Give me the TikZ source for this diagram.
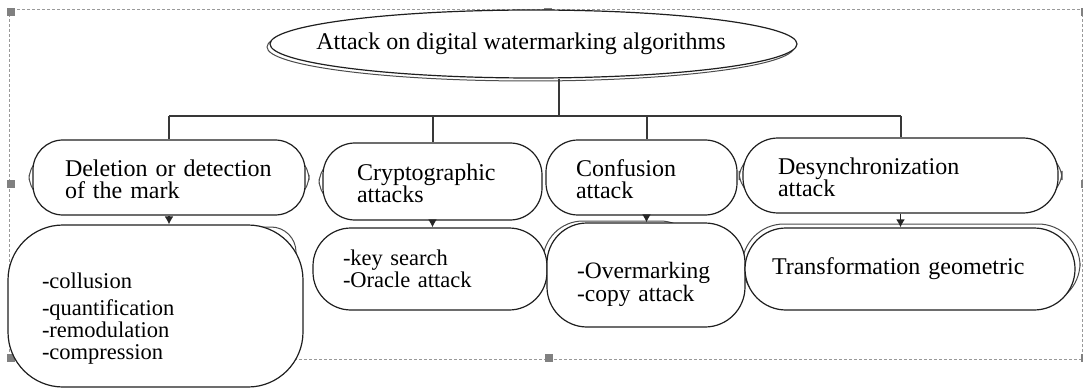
\documentclass[tikz,border=0pt]{standalone}
\usepackage{fontspec}
\setmainfont{Liberation Serif}
\usetikzlibrary{arrows.meta,shapes.geometric}

\begin{document}
\begin{tikzpicture}[x=1pt,y=-1pt,
  outline/.style={draw=black!88,line width=1.2pt,fill=white},
  ghost/.style={draw=black!70,line width=1pt,fill=white},
  card/.style={outline,rounded corners=#1,align=left,inner ysep=0pt},
  wire/.style={draw=black!78,line width=2pt},
  feed/.style={draw=black!85,line width=1.5pt,-{Latex[length=8pt,width=9pt]}},
  frame/.style={draw=black!40,line width=0.7pt,dash pattern=on 3pt off 2pt},
  handle/.style={fill=black!50,draw=none},
  lvltwo/.style={font=\fontsize{24}{22}\selectfont},
  lvlthree/.style={font=\fontsize{22.5}{22}\selectfont}]

\useasboundingbox (0,0) rectangle (1083,390);
\clip (0,0) rectangle (1083,390);

% selection frame with its handles
\draw[frame] (9,9) rectangle (1082,359);
\foreach \hx/\hy in {11/12,548/12,11/184,11/358,549/358,1085/12,1085/184,1085/358}
  \fill[handle] (\hx-4,\hy-4) rectangle (\hx+4,\hy+4);

% double-line outlines behind the shapes
\draw[ghost] (530.5,47) ellipse [x radius=263.5, y radius=34];
\draw[ghost,rounded corners=28] (29,152) rectangle (309,203);
\draw[ghost,rounded corners=28] (319,156) rectangle (500,207);
\draw[ghost,rounded corners=30] (739,150) rectangle (1062,201);
\draw[ghost,rounded corners=25] (100,227) rectangle (296,320);
\draw[ghost,rounded corners=40] (543,221) rectangle (700,300);
\draw[ghost,rounded corners=42] (742,224) rectangle (1080,305);

% root
\node[outline,ellipse,inner sep=0pt,minimum width=527pt,minimum height=68pt,
      font=\fontsize{24}{24}\selectfont] (top) at (533.5,44)
      {\makebox[0pt]{\hspace*{-25pt}\raisebox{-2pt}{Attack on digital watermarking algorithms}}};

% attack families
\node[card=30,lvltwo,minimum height=75pt,text width=208pt,inner xsep=32pt] (del) at (169,177.5)
  {\rule{0pt}{20pt}Deletion or detection\\of the mark};
\node[card=32,lvltwo,minimum height=77pt,text width=151pt,inner xsep=34pt] (crypt) at (432.5,181.5)
  {\rule{0pt}{20pt}Cryptographic\\attacks};
\node[card=32,lvltwo,minimum height=75pt,text width=131pt,inner xsep=30pt] (conf) at (641.5,177.5)
  {\rule{0pt}{20pt}Confusion\\attack};
\node[card=35,lvltwo,minimum height=75pt,text width=245pt,inner xsep=35pt] (desync) at (900.5,175.5)
  {\rule{0pt}{20pt}Desynchronization\\attack};

% examples of each family
\node[card=55,lvlthree,minimum height=162pt,text width=227pt,inner xsep=34pt] (deldet) at (155.5,306)
  {\rule{0pt}{40pt}-collusion\\[5pt]-quantification\\-remodulation\\-compression};
\node[card=38,lvlthree,minimum height=82pt,text width=174pt,inner xsep=30pt] (cryptdet) at (430,269)
  {-key search\\-Oracle attack};
\node[card=40,font=\fontsize{23.5}{23}\selectfont,minimum height=104pt,text width=138pt,inner xsep=30pt] (confdet) at (646,275)
  {\rule{0pt}{36pt}-Overmarking\\-copy attack};
\node[card=41,font=\fontsize{24}{24}\selectfont,minimum height=82pt,text width=276pt,inner xsep=27pt] (trans) at (910,269)
  {\raisebox{4pt}{Transformation geometric}};

% tree connectors
\coordinate (bus) at (559,116);
\draw[wire] (top.south -| bus) -- (bus);
\draw[wire] (del.north |- bus) -- (desync.north |- bus);
\draw[wire] (del.north |- bus) -- (del.north);
\draw[wire] (crypt.north |- bus) -- (crypt.north);
\draw[wire] ([xshift=5pt]conf.north |- bus) -- ([xshift=5pt]conf.north);
\draw[wire] (desync.north |- bus) -- (desync.north);

% arrows down to the examples
\draw[feed] (del.south) -- (del.south |- deldet.north);
\draw[feed] (crypt.south) -- (crypt.south |- cryptdet.north);
\draw[feed] ([xshift=5pt]conf.south) -- ([xshift=5pt]conf.south |- confdet.north);
\draw[feed] (desync.south) -- (desync.south |- trans.north);
\end{tikzpicture}
\end{document}
